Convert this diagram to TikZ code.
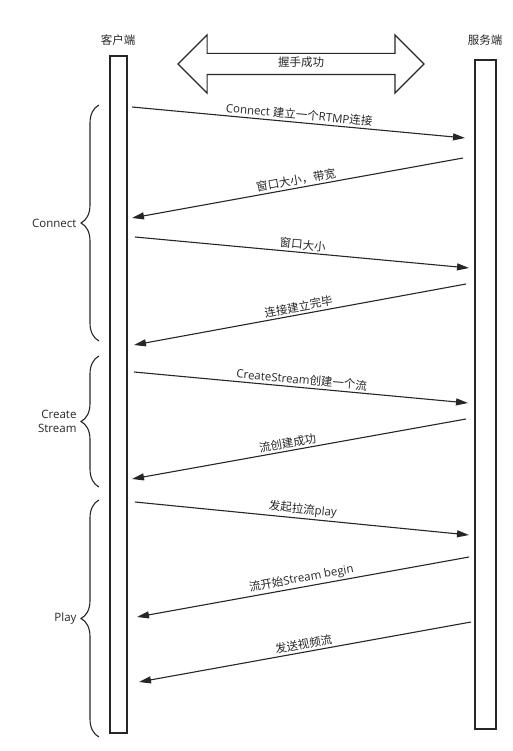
\documentclass[tikz,border=0pt]{standalone}
\usepackage{fontspec}
\setmainfont{Open Sans}
\newfontfamily\cjk{Noto Sans CJK SC}
\newcommand{\zh}[1]{{\cjk #1}}
\usetikzlibrary{arrows.meta,shapes.arrows,decorations.pathreplacing}

\begin{document}
\begin{tikzpicture}[x=1pt, y=-1pt,
    every node/.style={text=black!85, font=\fontsize{11.5}{14}\selectfont},
    bar/.style={draw=black!85, line width=1.2pt, inner sep=0pt},
    handshake/.style={draw=black!85, line width=1.2pt, shape=double arrow,
        double arrow head extend=18.5pt, minimum height=246pt,
        text height=8pt, text depth=2pt, inner ysep=5pt},
    msg/.style={draw=black!85, line width=1.1pt, -{Triangle[length=12pt,width=7pt]}},
    lbl/.style={midway, above, sloped, inner sep=2pt},
    grp/.style={draw=black!85, line width=1.1pt, decorate, decoration={brace, amplitude=18pt}},
    grplbl/.style={midway, left=22pt, align=right, inner sep=0pt}]
    \useasboundingbox (0,0) rectangle (513,751);

    \node[bar, minimum width=17pt, minimum height=677pt] (client) at (118.5, 394.5) {};
    \node[bar, minimum width=21pt, minimum height=669pt] (server) at (485.5, 394.5) {};
    \node (clientname) at (118, 40) {\zh{客户端}};
    \node (servername) at (485, 40) {\zh{服务端}};
    \node[handshake] (hs) at (301, 64) {\zh{握手成功}};

    % end points of the messages
    \coordinate (c1) at (132, 107); \coordinate (s1) at (465, 138);
    \coordinate (s2) at (463, 158); \coordinate (c2) at (132, 218);
    \coordinate (c3) at (135, 237); \coordinate (s3) at (469, 268);
    \coordinate (s4) at (466, 284); \coordinate (c4) at (134, 345);
    \coordinate (c5) at (134, 372); \coordinate (s5) at (468, 403);
    \coordinate (s6) at (466, 419); \coordinate (c6) at (132, 479);
    \coordinate (c7) at (135, 502); \coordinate (s7) at (469, 535);
    \coordinate (s8) at (469, 557); \coordinate (c8) at (137, 617);
    \coordinate (s9) at (471, 622); \coordinate (c9) at (139, 682);

    \draw[msg] (c1) -- node[lbl] (m1) {Connect \zh{建立一个}RTMP\zh{连接}} (s1);
    \draw[msg] (s2) -- node[lbl] (m2) {\zh{窗口大小，带宽}} (c2);
    \draw[msg] (c3) -- node[lbl] (m3) {\zh{窗口大小}} (s3);
    \draw[msg] (s4) -- node[lbl] (m4) {\zh{连接建立完毕}} (c4);
    \draw[msg] (c5) -- node[lbl] (m5) {CreateStream\zh{创建一个流}} (s5);
    \draw[msg] (s6) -- node[lbl, pos=0.53] (m6) {\zh{流创建成功}} (c6);
    \draw[msg] (c7) -- node[lbl] (m7) {\zh{发起拉流}play} (s7);
    \draw[msg] (s8) -- node[lbl] (m8) {\zh{流开始}Stream begin} (c8);
    \draw[msg] (s9) -- node[lbl] (m9) {\zh{发送视频流}} (c9);

    % phases
    \draw[grp] (99, 341) -- node[grplbl] (gconnect) {Connect} (99, 105);
    \draw[grp] (99, 487) -- node[grplbl] (gcreate) {Create\\Stream} (99, 356);
    \draw[grp] (99, 737) -- node[grplbl] (gplay) {Play} (99, 500);
\end{tikzpicture}
\end{document}
